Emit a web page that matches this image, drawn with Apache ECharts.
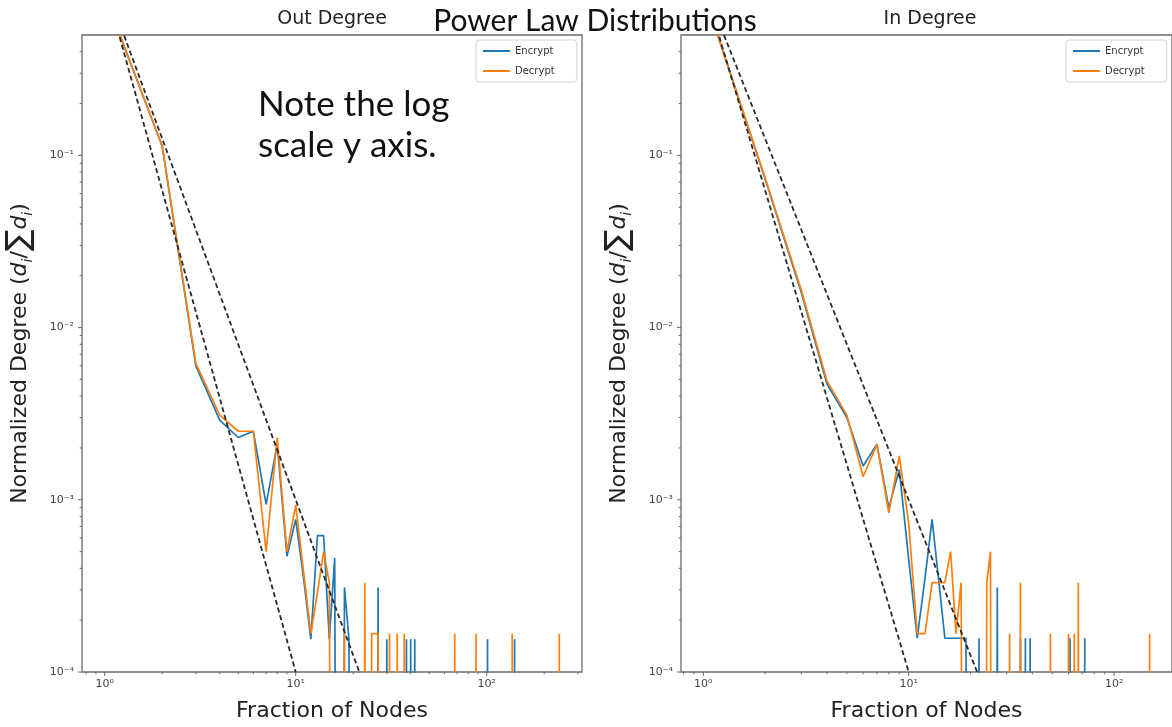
<!DOCTYPE html>
<html>
<head>
<meta charset="utf-8">
<title>Power Law Distributions</title>
<script src="https://cdn.jsdelivr.net/npm/echarts@6/dist/echarts.min.js"></script>
<style>
  html, body { margin: 0; padding: 0; background: #ffffff; }
  #chart { width: 1172px; height: 727px; }
</style>
</head>
<body>
<div id="chart"></div>
<script>
// Normalized degree distributions as [degree, value]; a degree that is not listed has no nodes.
const outEncrypt = [
  [1, 0.85], [2, 0.113], [3, 0.0060], [4, 0.0029], [5, 0.0023], [6, 0.0025], [7, 0.00094],
  [8, 0.0021], [9, 0.00047], [10, 0.00077], [11, 0.00035], [12, 0.000155], [13, 0.00062],
  [14, 0.00062], [15, 0.000155], [16, 0.00046], [18, 0.00031], [19, 0.000155], [27, 0.00031],
  [30, 0.000155], [38, 0.000155], [40, 0.000155], [42, 0.000155], [101, 0.000155], [140, 0.000155]
];
const outDecrypt = [
  [1, 0.85], [2, 0.113], [3, 0.0062], [4, 0.0031], [5, 0.0025], [6, 0.0025], [7, 0.00050],
  [8, 0.0023], [9, 0.00050], [10, 0.00093], [11, 0.00038], [12, 0.000167], [13, 0.00029],
  [14, 0.00050], [15, 0.00033], [18, 0.000167], [23, 0.00033], [25, 0.000167], [26, 0.000167],
  [27, 0.000167], [31, 0.000167], [34, 0.000167], [37, 0.000167], [68, 0.000167], [88, 0.000167],
  [136, 0.000167], [240, 0.000167]
];
const inEncrypt = [
  [1, 0.89], [2, 0.073], [3, 0.016], [4, 0.0047], [5, 0.0030], [6, 0.00157], [7, 0.0021],
  [8, 0.00090], [9, 0.0015], [10, 0.00045], [11, 0.000157], [12, 0.00035], [13, 0.00077],
  [14, 0.00034], [15, 0.000157], [16, 0.000157], [17, 0.000157], [18, 0.000157], [19, 0.000157],
  [22, 0.000157], [27, 0.00031], [35, 0.000157], [37, 0.000157], [39, 0.000157], [61, 0.000157],
  [72, 0.000157]
];
const inDecrypt = [
  [1, 0.89], [2, 0.074], [3, 0.0165], [4, 0.0049], [5, 0.0031], [6, 0.00136], [7, 0.0021],
  [8, 0.00084], [9, 0.0018], [10, 0.00073], [11, 0.000167], [12, 0.000167], [13, 0.00033],
  [14, 0.00033], [15, 0.00033], [16, 0.00050], [17, 0.000167], [18, 0.00033], [24, 0.00033],
  [25, 0.00050], [31, 0.000167], [35, 0.00033], [49, 0.000167], [60, 0.000167], [64, 0.000167],
  [67, 0.00033], [149, 0.000167]
];

// Reference power laws (slopes -4 and -3), as line endpoints in log-log space.
const fitSteep = [[1, 1], [10, 1e-4]];
const fitShallow = [[1, 1], [21.54, 1e-4]];

// Axis decades that carry a label.
const xTickDecades = [1, 10, 100];
const yTickDecades = [1e-4, 1e-3, 1e-2, 1e-1];

const seriesNames = ['Encrypt', 'Decrypt'];
const panelTitles = ['Out Degree', 'In Degree'];
const mainTitle = 'Power Law Distributions';
const noteLines = ['Note the log', 'scale y axis.'];
const xAxisTitle = 'Fraction of Nodes';

// ---- styling and layout ----
const BLUE = '#1f77b4';
const ORANGE = '#ff7f0e';
const FRAME = '#6a6a6a';
const MPL_FONT = 'DejaVu Sans';
const SLIDE_FONT = 'Lato';
const Y_MIN = 1e-4, Y_MAX = 0.5;
const panels = [
  { left: 82, width: 500, xMin: Math.pow(10, -0.119), xMax: Math.pow(10, 2.499),
    enc: outEncrypt, dec: outDecrypt },
  { left: 681, width: 498, xMin: Math.pow(10, -0.1087), xMax: Math.pow(10, 2.282),
    enc: inEncrypt, dec: inDecrypt }
];
const GRID_TOP = 35, GRID_HEIGHT = 637;

// An empty degree bin cannot sit on a log axis; it is pushed far below the bottom and clipped.
const EMPTY_BIN = 1e-12;
function fullHistogram(pairs) {
  const lookup = new Map(pairs);
  const maxDeg = Math.max(...pairs.map(p => p[0]));
  const out = [];
  for (let k = 1; k <= maxDeg; k++) out.push([k, lookup.has(k) ? lookup.get(k) : EMPTY_BIN]);
  return out;
}

const SUP = { '-': '\u207B', '0': '\u2070', '1': '\u00B9', '2': '\u00B2', '3': '\u00B3',
  '4': '\u2074', '5': '\u2075', '6': '\u2076', '7': '\u2077', '8': '\u2078', '9': '\u2079' };
function decadeLabel(v) {
  const e = String(Math.round(Math.log10(v)));
  return '10' + e.split('').map(c => SUP[c]).join('');
}

function axisTicks(decades, lo, hi) {
  const ticks = [];
  decades.forEach(d => { if (d >= lo * 0.999 && d <= hi * 1.001) ticks.push({ v: d, major: true, label: decadeLabel(d) }); });
  for (let e = -6; e <= 3; e++) {
    for (let m = 2; m <= 9; m++) {
      const v = m * Math.pow(10, e);
      if (v > lo && v < hi) ticks.push({ v: v, major: false });
    }
  }
  return ticks;
}

function tickSeries(idx, dir, ticks, panel) {
  return {
    type: 'custom', coordinateSystem: 'cartesian2d', xAxisIndex: idx, yAxisIndex: idx,
    silent: true, animation: false, z: 6,
    data: ticks.map(t => dir === 'x' ? [t.v, Y_MIN] : [panel.xMin, t.v]),
    renderItem: function (params, api) {
      const t = ticks[params.dataIndex];
      const p = api.coord(dir === 'x' ? [t.v, Y_MIN] : [panel.xMin, t.v]);
      const len = t.major ? 4 : 2.3;
      const kids = [];
      if (dir === 'x') {
        kids.push({ type: 'line', shape: { x1: p[0], y1: p[1], x2: p[0], y2: p[1] + len },
          style: { stroke: FRAME, lineWidth: 1 } });
        if (t.major) kids.push({ type: 'text', x: p[0], y: p[1] + 7,
          style: { text: t.label, fontFamily: MPL_FONT, fontSize: 11, fill: '#444', align: 'center', verticalAlign: 'top' } });
      } else {
        kids.push({ type: 'line', shape: { x1: p[0] - len, y1: p[1], x2: p[0], y2: p[1] },
          style: { stroke: FRAME, lineWidth: 1 } });
        if (t.major) kids.push({ type: 'text', x: p[0] - 8, y: p[1],
          style: { text: t.label, fontFamily: MPL_FONT, fontSize: 11, fill: '#444', align: 'right', verticalAlign: 'middle' } });
      }
      return { type: 'group', children: kids };
    }
  };
}

const yNameRich = {
  t: { fontFamily: MPL_FONT, fontSize: 22, color: '#222', lineHeight: 30 },
  i: { fontFamily: MPL_FONT, fontSize: 22, fontStyle: 'italic', color: '#222', lineHeight: 30 },
  s: { fontFamily: MPL_FONT, fontSize: 14, fontStyle: 'italic', color: '#222', lineHeight: 14, verticalAlign: 'bottom' },
  b: { fontFamily: MPL_FONT, fontSize: 32, color: '#222', lineHeight: 30 }
};
const yName = '{t|Normalized Degree (}{i|d}{s|i}{t|/}{b|\u2211}{i|d}{s|i}{t|)}';

const grids = [], xAxes = [], yAxes = [], series = [];
panels.forEach((panel, idx) => {
  grids.push({ left: panel.left, top: GRID_TOP, width: panel.width, height: GRID_HEIGHT,
    show: true, borderColor: FRAME, borderWidth: 1.3, backgroundColor: '#ffffff' });
  xAxes.push({ type: 'log', gridIndex: idx, min: panel.xMin, max: panel.xMax,
    axisLine: { show: false }, axisTick: { show: false }, axisLabel: { show: false },
    splitLine: { show: false }, minorTick: { show: false },
    name: xAxisTitle, nameLocation: 'middle', nameGap: 28,
    nameTextStyle: { fontFamily: MPL_FONT, fontSize: 22, color: '#222' } });
  yAxes.push({ type: 'log', gridIndex: idx, min: Y_MIN, max: Y_MAX,
    axisLine: { show: false }, axisTick: { show: false }, axisLabel: { show: false },
    splitLine: { show: false },
    name: yName, nameLocation: 'middle', nameGap: 47, nameRotate: 90,
    nameTextStyle: { rich: yNameRich } });

  const enc = fullHistogram(panel.enc), dec = fullHistogram(panel.dec);
  [[seriesNames[0], enc, BLUE], [seriesNames[1], dec, ORANGE]].forEach(([name, data, color]) => {
    series.push({ type: 'line', name: name, xAxisIndex: idx, yAxisIndex: idx, data: data,
      showSymbol: false, symbol: 'none', clip: true, animation: false, z: 3,
      color: color, lineStyle: { color: color, width: 1.7 } });
  });
  [fitSteep, fitShallow].forEach(fit => {
    series.push({ type: 'line', name: 'fit', xAxisIndex: idx, yAxisIndex: idx, data: fit,
      showSymbol: false, symbol: 'none', clip: true, animation: false, z: 4, silent: true,
      lineStyle: { color: '#2a2a2a', width: 1.8, type: [5, 3] } });
  });
  series.push(tickSeries(idx, 'x', axisTicks(xTickDecades, panel.xMin, panel.xMax), panel));
  series.push(tickSeries(idx, 'y', axisTicks(yTickDecades, Y_MIN, Y_MAX), panel));
});

const legendBase = {
  orient: 'vertical', top: 40, data: seriesNames, icon: 'rect', itemWidth: 27, itemHeight: 2,
  itemGap: 10, padding: [6, 22, 6, 7], borderColor: '#d4d4d4', borderWidth: 1, borderRadius: 3,
  backgroundColor: '#ffffff', selectedMode: false,
  textStyle: { fontFamily: MPL_FONT, fontSize: 10, color: '#333' }
};

const chart = echarts.init(document.getElementById('chart'), null, { renderer: 'canvas' });
chart.setOption({
  backgroundColor: '#ffffff',
  animation: false,
  grid: grids,
  xAxis: xAxes,
  yAxis: yAxes,
  legend: [
    Object.assign({}, legendBase, { left: 476 }),
    Object.assign({}, legendBase, { left: 1066 })
  ],
  series: series,
  graphic: [
    { type: 'text', x: (panels[0].left + panels[0].width / 2), y: 19, z: 10,
      style: { text: panelTitles[0], fontFamily: MPL_FONT, fontSize: 19, fill: '#222', align: 'center', verticalAlign: 'middle' } },
    { type: 'text', x: (panels[1].left + panels[1].width / 2), y: 19, z: 10,
      style: { text: panelTitles[1], fontFamily: MPL_FONT, fontSize: 19, fill: '#222', align: 'center', verticalAlign: 'middle' } },
    { type: 'text', x: 595, y: 21, z: 10,
      style: { text: mainTitle, fontFamily: SLIDE_FONT, fontSize: 30, fill: '#111', align: 'center', verticalAlign: 'middle' } },
    { type: 'text', x: 258, y: 105, z: 10,
      style: { text: noteLines[0], fontFamily: SLIDE_FONT, fontSize: 35, fill: '#111', align: 'left', verticalAlign: 'middle' } },
    { type: 'text', x: 258, y: 146, z: 10,
      style: { text: noteLines[1], fontFamily: SLIDE_FONT, fontSize: 35, fill: '#111', align: 'left', verticalAlign: 'middle' } }
  ]
});
</script>
</body>
</html>
